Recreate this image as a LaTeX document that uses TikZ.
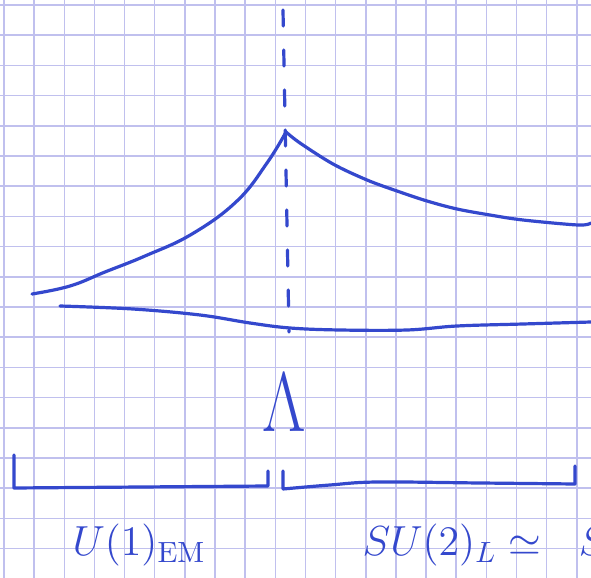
\documentclass[tikz,border=0pt]{standalone}
\usepackage{amsmath}
\usetikzlibrary{calc, positioning}

\definecolor{ink}{RGB}{52,72,205}
\definecolor{gridblue}{RGB}{192,192,238}

\begin{document}
\begin{tikzpicture}[
    x=0.5pt, y=-0.5pt,
    pen/.style={draw=ink, line width=1.6pt, line cap=round, line join=round},
    gridline/.style={draw=gridblue, line width=0.75pt},
    handtext/.style={text=ink, inner sep=0pt, font=\Large, scale=1.46}
]

    % 1. Folha quadriculada
    \useasboundingbox (0,0) rectangle (591,578);
    \clip (0,0) rectangle (591,578);
    \fill[white] (0,0) rectangle (591,578);
    \foreach \i in {0,...,19}
        \draw[gridline] ({4+30.15*\i},0) -- ({4+30.15*\i},578);
    \foreach \j in {0,...,19}
        \draw[gridline] (0,{5+30.2*\j}) -- (591,{5+30.2*\j});

    % 2. Pontos principais
    \coordinate (P) at (286,132);     % pico
    \coordinate (Ltop) at (283,10);
    \coordinate (Lbot) at (289,332);

    % 3. Linha tracejada vertical
    \draw[pen, dash pattern=on 8pt off 12pt] (Ltop) -- (Lbot);

    % 4. Curva de cima (sobe ate o pico e desce)
    \draw[pen] plot[smooth, tension=0.7] coordinates {
        (32,294) (70,286) (105,272) (145,256) (192,234) (237,201) (267,163) (P)};
    \draw[pen] plot[smooth, tension=0.55] coordinates {
        (P) (300,143) (333,164) (367,180) (397,191) (427,201) (457,209)
        (490,215) (523,220) (578,225) (591,223)};

    % 5. Curva de baixo
    \draw[pen] plot[smooth, tension=0.6] coordinates {
        (60,306) (133,309) (200,315) (250,323) (290,328) (340,330)
        (407,330) (457,326) (523,324) (591,322)};

    % 6. Escala Lambda
    \node[text=ink, inner sep=0pt, font=\Huge, xscale=1.36, yscale=1.7]
        (lam) at (284,403) {$\Lambda$};

    % 7. Colchetes das duas regioes
    \coordinate (A1) at (14,455);
    \coordinate (A2) at (14,488);
    \coordinate (A3) at (268,486);
    \coordinate (A4) at (268,471);
    \draw[pen] (A1) -- (A2) -- (A3) -- (A4);

    \coordinate (B1) at (283,471);
    \coordinate (B2) at (575,484);
    \coordinate (B3) at (575,466);
    \draw[pen] (B1) -- (283,489)
        plot[smooth, tension=0.6] coordinates {(283,489) (330,485) (377,482) (480,483) (B2)}
        -- (B3);

    % 8. Rotulos
    \node[handtext, anchor=base west] (em) at (72,556) {$U(1)_{\mathrm{EM}}$};
    \node[handtext, anchor=base west] (ew) at (362,556) {$SU(2)_L \simeq\hspace{9pt} S($};

\end{tikzpicture}
\end{document}
